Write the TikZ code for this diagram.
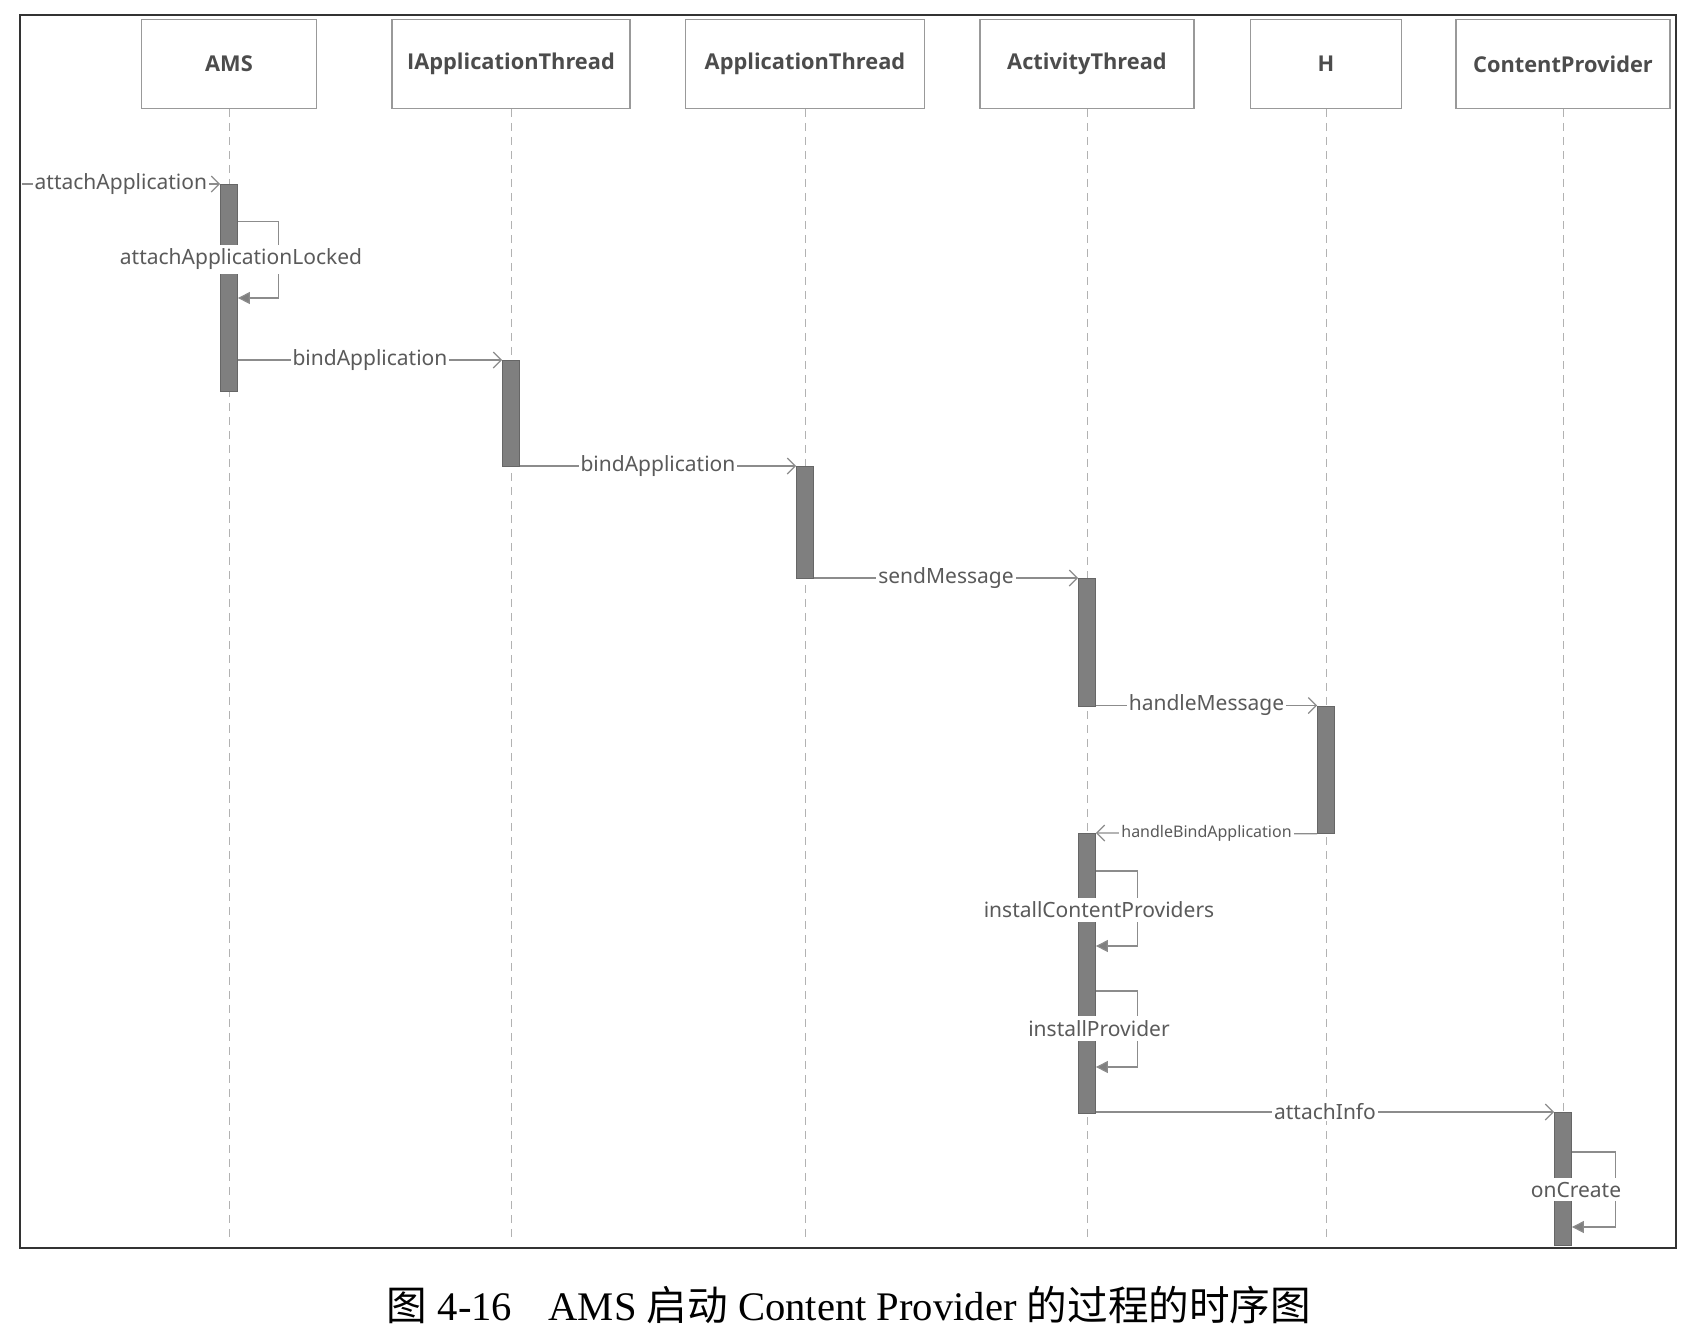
\documentclass[tikz,border=0pt]{standalone}
\usepackage{fontspec}
\setmainfont{Liberation Serif}
\newfontfamily\uifont{Noto Sans}
\newfontfamily\headfont{Open Sans}
\newfontfamily\cjk{Noto Sans CJK SC}
\usepackage{xcolor}
\usetikzlibrary{positioning,arrows.meta}
\definecolor{linegray}{HTML}{8C8C8C}
\definecolor{bargray}{HTML}{7F7F7F}
\definecolor{textgray}{HTML}{5A5A5A}

\begin{document}
\begin{tikzpicture}
		[x=0.5pt,y=-0.5pt,
		headbox/.style={draw=gray!80,line width=0.6pt,fill=white,minimum height=44.25pt,font=\headfont\bfseries\fontsize{10.9}{12}\selectfont,text=textgray!85!black},
		actbar/.style={draw=bargray!80!black,fill=bargray,minimum width=8.5pt,inner sep=0pt,anchor=north},
		lifeline/.style={draw=gray!60,dash pattern=on 4pt off 3pt,line width=0.4pt},
		callmsg/.style={draw=linegray,line width=0.6pt,-{Straight Barb[length=4pt,width=8pt]}},
		selfcall/.style={draw=linegray,line width=0.6pt,-{Triangle[length=6pt,width=6pt,fill=bargray]}},
		msglabel/.style={fill=white,inner xsep=1pt,inner ysep=0.5pt,text=textgray,font=\uifont\fontsize{10.5}{12}\selectfont},
		selflabel/.style={msglabel,inner ysep=2pt}]
		\useasboundingbox (0,0) rectangle (1694,1330);
		\draw[line width=1pt,draw=black!80] (19.5,15) rectangle (1675.7,1248);
		\node[headbox,minimum width=87.5pt] (ams) at (229,64) {AMS};
		\node[headbox,minimum width=119pt] (iat) at (511,64) {IApplicationThread};
		\node[headbox,minimum width=119.5pt] (at) at (805,64) {ApplicationThread};
		\node[headbox,minimum width=107pt] (act) at (1087,64) {ActivityThread};
		\node[headbox,minimum width=75.5pt] (h) at (1326,64) {H};
		\node[headbox,minimum width=107pt] (cp) at (1563,64) {ContentProvider};
		\coordinate (bottom) at (0,1242);
		\foreach \n in {ams,iat,at,act,h,cp}
			\draw[lifeline] (\n.south) -- (\n.south |- bottom);
		\node[actbar,minimum height=103.5pt] (amsA) at (ams.south |- 0,184) {};
		\node[actbar,minimum height=53pt] (iatA) at (iat.south |- 0,360) {};
		\node[actbar,minimum height=56pt] (atA) at (at.south |- 0,466) {};
		\node[actbar,minimum height=63.75pt] (actA) at (act.south |- 0,578) {};
		\node[actbar,minimum height=63.75pt] (hA) at (h.south |- 0,705.5) {};
		\node[actbar,minimum height=140pt] (actB) at (act.south |- 0,833) {};
		\node[actbar,minimum height=66.5pt] (cpA) at (cp.south |- 0,1112) {};
		\coordinate (entry) at (21.6,184);
		\draw[callmsg] (entry) -- node[msglabel] {attachApplication} (amsA.north west);
		\draw[callmsg] (iatA.north west -| amsA.east) -- node[msglabel] {bindApplication} (iatA.north west);
		\draw[callmsg] (atA.north west -| iatA.east) -- node[msglabel] {bindApplication} (atA.north west);
		\draw[callmsg] (actA.north west -| atA.east) -- node[msglabel] {sendMessage} (actA.north west);
		\draw[callmsg] (hA.north west -| actA.east) -- node[msglabel] {handleMessage} (hA.north west);
		\draw[callmsg] (hA.south west) -- node[msglabel,font=\uifont\fontsize{8}{9}\selectfont] {handleBindApplication} (actB.north east);
		\draw[callmsg] (cpA.north west -| actB.east) -- node[msglabel] {attachInfo} (cpA.north west);
		\draw[selfcall] (amsA.east |- 0,221.5) -| ++(40.5,76.5) -- (amsA.east |- 0,298);
		\node[selflabel] (lockedlbl) at (241,259) {attachApplicationLocked};
		\draw[selfcall] (actB.east |- 0,871) -| ++(41.5,75) -- (actB.east |- 0,946);
		\node[selflabel] (installslbl) at (1099,910) {installContentProviders};
		\draw[selfcall] (actB.east |- 0,991) -| ++(41.5,76) -- (actB.east |- 0,1067);
		\node[selflabel] (installlbl) at (1099,1028.5) {installProvider};
		\draw[selfcall] (cpA.east |- 0,1152) -| ++(43.5,75) -- (cpA.east |- 0,1227);
		\node[selflabel] (createlbl) at (1576,1189.5) {onCreate};
		\node[font=\fontsize{20.3}{23}\selectfont] (caption) at (849,1305) {{\cjk 图} 4-16\hspace{0.9em}AMS {\cjk 启动} Content Provider {\cjk 的过程的时序图}};
\end{tikzpicture}
\end{document}
